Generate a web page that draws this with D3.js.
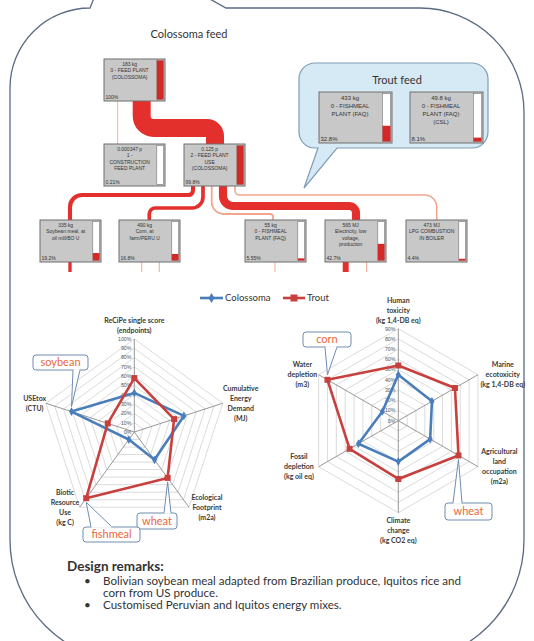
<!DOCTYPE html>
<html lang="en">
<head>
<meta charset="UTF-8">
<title>Colossoma and trout feed</title>
<script src="https://d3js.org/d3.v7.min.js"></script>
<style>
  body { margin: 0; background: #fff; }
  svg { display: block; }
</style>
</head>
<body>
<svg width="534" height="641"></svg>
<script>
// ---- data ----
// process network (Colossoma feed)
const nodeAmounts = ["183 kg", "0.000347 p", "0.125 p", "335 kg", "490 kg", "55 kg", "565 MJ", "473 MJ"];
const nodeNames = [
  ["0 - FEED PLANT", "(COLOSSOMA)"],
  ["1 -", "CONSTRUCTION", "FEED PLANT"],
  ["2 - FEED PLANT", "USE", "(COLOSSOMA)"],
  ["Soybean meal, at", "oil mill/BO U"],
  ["Corn, at", "farm/PERU U"],
  ["0 - FISHMEAL", "PLANT (FAQ)"],
  ["Electricity, low", "voltage,", "production"],
  ["LPG COMBUSTION", "IN BOILER"]
];
const nodeShares = [100, 0.21, 99.8, 19.2, 16.8, 5.55, 42.7, 4.4];
const nodeShareLabels = ["100%", "0.21%", "99.8%", "19.2%", "16.8%", "5.55%", "42.7%", "4.4%"];
const linkSource = [0, 0, 2, 2, 2, 2, 2];
const linkTarget = [1, 2, 3, 4, 5, 6, 7];
// upstream flows leaving the bottom row (cut off)
const stubNode = [3, 4, 4, 5, 6, 6];
const stubShares = [15, 1, 1, 1, 30, 1.5];

// trout feed
const troutAmounts = ["433 kg", "49.8 kg"];
const troutNames = [["0 - FISHMEAL", "PLANT (FAQ)"], ["0 - FISHMEAL", "PLANT (FAQ)", "(CSL)"]];
const troutShares = [32.8, 8.1];
const troutShareLabels = ["32.8%", "8.1%"];

// radar charts
const seriesNames = ["Colossoma", "Trout"];
const leftAxes = [
  ["ReCiPe single score", "(endpoints)"],
  ["Cumulative", "Energy", "Demand", "(MJ)"],
  ["Ecological", "Footprint", "(m2a)"],
  ["Biotic", "Resource", "Use", "(kg C)"],
  ["USEtox", "(CTU)"]
];
const leftColossoma = [42, 56, 37, 10, 71];
const leftTrout = [58, 45, 61, 88, 30];
const leftTicks = d3.range(0, 101, 10);

const rightAxes = [
  ["Human", "toxicity", "(kg 1,4-DB eq)"],
  ["Marine", "ecotoxicity", "(kg 1,4-DB eq)"],
  ["Agricultural", "land", "occupation", "(m2a)"],
  ["Climate", "change", "(kg CO2 eq)"],
  ["Fossil", "depletion", "(kg oil eq)"],
  ["Water", "depletion", "(m3)"]
];
const rightColossoma = [45, 38, 36, 40, 45, 18];
const rightTrout = [54, 64, 68, 57, 55, 80];
const rightTicks = d3.range(0, 91, 10);

const remarks = [
  "Bolivian soybean meal adapted from Brazilian produce, Iquitos rice and",
  "corn from US produce.",
  "Customised Peruvian and Iquitos energy mixes."
];

// ---- styling / layout ----
const RED = "#e3302c", SALMON = "#f2a58c";
const BLUE_S = "#4a7ebb", RED_S = "#c8403d";
const CALLOUT = "#e8693a";
const svg = d3.select("svg");

// outer speech bubble
(function () {
  const L = 10, R = 524, T = 8, B = 662, rTL = 80, rTR = 104, rB = 122;
  const p = d3.path();
  p.moveTo(L + rTL, T);
  p.lineTo(98, -12);
  p.lineTo(190, -12);
  p.lineTo(226, T);
  p.lineTo(R - rTR, T);
  p.arcTo(R, T, R, T + rTR, rTR);
  p.lineTo(R, B - rB);
  p.arcTo(R, B, R - rB, B, rB);
  p.lineTo(L + rB, B);
  p.arcTo(L, B, L, B - rB, rB);
  p.lineTo(L, T + rTL);
  p.arcTo(L, T, L + rTL, T, rTL);
  p.closePath();
  svg.append("path").attr("d", p.toString())
    .attr("fill", "#fff").attr("stroke", "#5b6b82").attr("stroke-width", 1.3);
})();

svg.append("text").attr("x", 189).attr("y", 38).attr("text-anchor", "middle")
  .attr("font-family", "Lato, sans-serif").attr("font-size", 11).attr("fill", "#333")
  .text("Colossoma feed");

// ---- network ----
const widthScale = d3.scaleLinear().domain([0, 100]).range([0.8, 18]);
const flowColor = s => s >= 10 ? RED : SALMON;

// box placement (top-left corners) and routing of the links
const boxW = 61, boxH = 42;
const boxPos = [[104, 59], [104, 144], [184, 144], [40, 220], [119, 220], [245, 220], [325, 220], [406, 220]];
const routeExitX = [117.7, 141.7, 193, 203, 211.7, 223, 235];
const routeMidY = [null, 128, 195, 208, 214, 206, 195];
const routeEntryX = [117.7, 215, 70, 149.3, 273, 356, 436.7];
const stubX = [70, 141.7, 159.3, 275, 345.7, 366.7];

function roundedPolyline(pts, rad) {
  const p = d3.path();
  p.moveTo(pts[0][0], pts[0][1]);
  for (let i = 1; i < pts.length - 1; i++) {
    const [x0, y0] = pts[i - 1], [x1, y1] = pts[i], [x2, y2] = pts[i + 1];
    const l1 = Math.hypot(x1 - x0, y1 - y0), l2 = Math.hypot(x2 - x1, y2 - y1);
    const r = Math.min(rad, l1 / 2, l2 / 2);
    if (r < 0.5) { p.lineTo(x1, y1); continue; }
    p.arcTo(x1, y1, x2, y2, r);
  }
  const last = pts[pts.length - 1];
  p.lineTo(last[0], last[1]);
  return p.toString();
}

const gLinks = svg.append("g");
linkSource.forEach((s, i) => {
  const t = linkTarget[i];
  const share = nodeShares[t];
  const sy = boxPos[s][1] + boxH, ty = boxPos[t][1];
  const pts = routeMidY[i] == null
    ? [[routeExitX[i], sy], [routeEntryX[i], ty]]
    : [[routeExitX[i], sy], [routeExitX[i], routeMidY[i]], [routeEntryX[i], routeMidY[i]], [routeEntryX[i], ty]];
  gLinks.append("path").attr("d", roundedPolyline(pts, 12))
    .attr("fill", "none").attr("stroke", flowColor(share))
    .attr("stroke-width", widthScale(share));
});
stubNode.forEach((n, i) => {
  const y0 = boxPos[n][1] + boxH;
  gLinks.append("line").attr("x1", stubX[i]).attr("x2", stubX[i])
    .attr("y1", y0).attr("y2", y0 + 10)
    .attr("stroke", flowColor(stubShares[i])).attr("stroke-width", widthScale(stubShares[i]));
});

function drawBox(g, x, y, w, h, amount, names, share, shareLabel, fs) {
  g.append("rect").attr("x", x).attr("y", y).attr("width", w).attr("height", h)
    .attr("fill", "#c8c8c8").attr("stroke", "#6e6e6e").attr("stroke-width", 1);
  const bw = w * 0.11, bx = x + w - bw - 1.5, by = y + 1.5, bh = h - 3;
  g.append("rect").attr("x", bx).attr("y", by).attr("width", bw).attr("height", bh)
    .attr("fill", "#fff").attr("stroke", "#777").attr("stroke-width", 0.6);
  const fill = d3.scaleLinear().domain([0, 100]).range([0, bh]);
  g.append("rect").attr("x", bx).attr("y", by + bh - fill(share)).attr("width", bw)
    .attr("height", fill(share)).attr("fill", "#d42a27");
  const cx = x + (w - bw - 3) / 2;
  [amount].concat(names).forEach((t, k) => {
    g.append("text").attr("x", cx).attr("y", y + fs * 1.35 + k * fs * 1.3)
      .attr("text-anchor", "middle").attr("font-family", "Liberation Sans, sans-serif")
      .attr("font-size", fs).attr("fill", "#333").text(t);
  });
  g.append("text").attr("x", x + 1.5).attr("y", y + h - 2)
    .attr("font-family", "Liberation Sans, sans-serif").attr("font-size", fs)
    .attr("fill", "#333").text(shareLabel);
}

const gBoxes = svg.append("g");
nodeAmounts.forEach((a, i) => {
  drawBox(gBoxes, boxPos[i][0], boxPos[i][1], boxW, boxH, a, nodeNames[i], nodeShares[i], nodeShareLabels[i], 5);
});

// ---- trout feed bubble ----
(function () {
  const x0 = 299, y0 = 63, x1 = 488, y1 = 148, r = 16;
  const p = d3.path();
  p.moveTo(x0 + r, y0);
  p.lineTo(x1 - r, y0); p.arcTo(x1, y0, x1, y0 + r, r);
  p.lineTo(x1, y1 - r); p.arcTo(x1, y1, x1 - r, y1, r);
  p.lineTo(337, y1); p.lineTo(304, 188); p.lineTo(318, y1);
  p.lineTo(x0 + r, y1); p.arcTo(x0, y1, x0, y1 - r, r);
  p.lineTo(x0, y0 + r); p.arcTo(x0, y0, x0 + r, y0, r);
  p.closePath();
  svg.append("path").attr("d", p.toString()).attr("fill", "#d6eaf5")
    .attr("stroke", "#7f9db8").attr("stroke-width", 1.2);
  svg.append("text").attr("x", 397).attr("y", 84).attr("text-anchor", "middle")
    .attr("font-family", "Lato, sans-serif").attr("font-size", 11).attr("fill", "#333")
    .text("Trout feed");
  const troutPos = [[319, 92], [410, 92]];
  troutAmounts.forEach((a, i) => {
    drawBox(svg, troutPos[i][0], troutPos[i][1], 73, 51, a, troutNames[i], troutShares[i], troutShareLabels[i], 6);
  });
})();

// ---- radar charts ----
function drawRadar(cfg) {
  const { cx, cy, R, max, axes, ticks, values } = cfg;
  const n = axes.length;
  const r = d3.scaleLinear().domain([0, max]).range([0, R]);
  const ang = i => i * 2 * Math.PI / n;
  const pt = (i, v) => [cx + r(v) * Math.sin(ang(i)), cy - r(v) * Math.cos(ang(i))];
  const g = svg.append("g");
  const closed = pts => d3.line()(pts) + "Z";

  ticks.filter(t => t > 0).forEach(t => {
    g.append("path").attr("d", closed(d3.range(n).map(i => pt(i, t))))
      .attr("fill", "none").attr("stroke", "#d2d2d2").attr("stroke-width", 0.8);
  });
  d3.range(n).forEach(i => {
    const [x, y] = pt(i, max);
    g.append("line").attr("x1", cx).attr("y1", cy).attr("x2", x).attr("y2", y)
      .attr("stroke", "#8c8c8c").attr("stroke-width", 0.9);
  });
  ticks.forEach(t => {
    g.append("text").attr("x", cx - 3).attr("y", cy - r(t) + 1.8)
      .attr("text-anchor", "end").attr("font-family", "Liberation Sans, sans-serif")
      .attr("font-size", 5.2).attr("fill", "#555").text(t + "%");
  });

  const colors = [BLUE_S, RED_S];
  values.forEach((vals, s) => {
    const pts = vals.map((v, i) => pt(i, v));
    g.append("path").attr("d", closed(pts)).attr("fill", "none")
      .attr("stroke", colors[s]).attr("stroke-width", 2.6).attr("stroke-linejoin", "round");
    pts.forEach(([x, y]) => {
      if (s === 0) {
        g.append("path").attr("d", d3.symbol(d3.symbolDiamond, 22)())
          .attr("transform", `translate(${x},${y})`).attr("fill", colors[s]);
      } else {
        g.append("rect").attr("x", x - 3).attr("y", y - 3).attr("width", 6).attr("height", 6)
          .attr("fill", colors[s]);
      }
    });
  });

  // axis labels
  axes.forEach((lines, i) => {
    const [ex, ey] = pt(i, max);
    const sx = Math.sin(ang(i)), cyv = Math.cos(ang(i));
    const lh = 10;
    let anchor = "middle", tx = ex, firstY;
    if (Math.abs(sx) > 0.2) {
      // beside the spoke end, block vertically centred on it
      anchor = "middle";
      const blockW = d3.max(lines, l => l.length) * 3.4;
      tx = ex + (sx > 0 ? 1 : -1) * (blockW / 2 + 1);
      firstY = ey - (lines.length - 1) * lh / 2 + 2.5;
    } else if (cyv > 0) {
      firstY = ey - 6 - (lines.length - 1) * lh;
    } else {
      firstY = ey + 10;
    }
    lines.forEach((l, k) => {
      g.append("text").attr("x", tx).attr("y", firstY + k * lh).attr("text-anchor", anchor)
        .attr("font-family", "Lato, sans-serif").attr("font-weight", "bold")
        .attr("font-size", 7).attr("fill", "#3a3a3a").text(l);
    });
  });
  return pt;
}

const leftPt = drawRadar({ cx: 134.3, cy: 432, R: 93, max: 100, axes: leftAxes, ticks: leftTicks,
  values: [leftColossoma, leftTrout] });
const rightPt = drawRadar({ cx: 398.3, cy: 420.7, R: 92, max: 90, axes: rightAxes, ticks: rightTicks,
  values: [rightColossoma, rightTrout] });

// legend
(function () {
  const y = 298;
  const g = svg.append("g").attr("font-family", "Lato, sans-serif").attr("font-size", 9.5).attr("fill", "#333");
  g.append("line").attr("x1", 200).attr("x2", 223).attr("y1", y).attr("y2", y).attr("stroke", BLUE_S).attr("stroke-width", 2.6);
  g.append("path").attr("d", d3.symbol(d3.symbolDiamond, 30)()).attr("transform", `translate(211.5,${y})`).attr("fill", BLUE_S);
  g.append("text").attr("x", 225).attr("y", y + 3.3).text(seriesNames[0]);
  g.append("line").attr("x1", 283).attr("x2", 305).attr("y1", y).attr("y2", y).attr("stroke", RED_S).attr("stroke-width", 2.6);
  g.append("rect").attr("x", 290.5).attr("y", y - 3.5).attr("width", 7).attr("height", 7).attr("fill", RED_S);
  g.append("text").attr("x", 307).attr("y", y + 3.3).text(seriesNames[1]);
})();

// callouts pointing at data points
const calloutTexts = ["soybean", "wheat", "fishmeal", "corn", "wheat"];
const calloutTargets = [leftPt(4, leftColossoma[4]), leftPt(2, leftTrout[2]), leftPt(3, leftTrout[3]),
  rightPt(5, rightTrout[5]), rightPt(2, rightTrout[2])];
const calloutBoxes = [[33, 355, 55, 15], [137, 513, 40, 16], [83, 527, 57, 15], [303, 332, 48, 15], [445, 503, 47, 17]];
const calloutBase = [[73, 80], [164, 171], [91, 112], [325, 337], [453, 462]];
calloutTexts.forEach((t, i) => {
  const [x, y, w, h] = calloutBoxes[i];
  const [tx, ty] = calloutTargets[i];
  const below = ty > y + h;
  const by = below ? y + h : y;
  const tipY = below ? ty - 5 : ty + 4;
  const g = svg.append("g");
  g.append("rect").attr("x", x).attr("y", y).attr("width", w).attr("height", h).attr("rx", 3)
    .attr("fill", "#fff").attr("stroke", "#6f8db0").attr("stroke-width", 1);
  g.append("path").attr("d", `M${calloutBase[i][0]},${by}L${tx},${tipY}L${calloutBase[i][1]},${by}`)
    .attr("fill", "#fff").attr("stroke", "#6f8db0").attr("stroke-width", 1);
  g.append("line").attr("x1", calloutBase[i][0] + 0.6).attr("x2", calloutBase[i][1] - 0.6)
    .attr("y1", by).attr("y2", by).attr("stroke", "#fff").attr("stroke-width", 1.6);
  g.append("text").attr("x", x + w / 2).attr("y", y + h / 2 + 3.8).attr("text-anchor", "middle")
    .attr("font-family", "Lato, sans-serif").attr("font-size", 11).attr("fill", CALLOUT).text(t);
});

// design remarks
(function () {
  const g = svg.append("g").attr("font-family", "Lato, sans-serif").attr("fill", "#333");
  g.append("text").attr("x", 67).attr("y", 571).attr("font-size", 13.5).attr("font-weight", "bold").text("Design remarks:");
  const ys = [585, 597, 609];
  const bullet = [true, false, true];
  remarks.forEach((t, i) => {
    if (bullet[i]) g.append("text").attr("x", 84).attr("y", ys[i]).attr("font-size", 11.6).text("•");
    g.append("text").attr("x", 103).attr("y", ys[i]).attr("font-size", 11.6).text(t);
  });
})();
</script>
</body>
</html>
